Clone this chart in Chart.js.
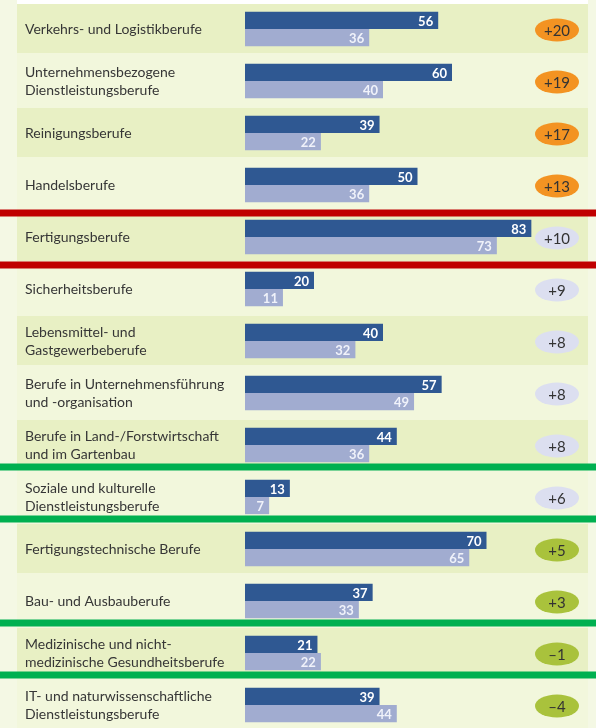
<!DOCTYPE html>
<html>
<head>
<meta charset="utf-8">
<script src="https://cdn.jsdelivr.net/npm/chart.js@4/dist/chart.umd.min.js"></script>
<style>
  html, body { margin: 0; padding: 0; background: #f4f8e4; }
  #wrap { width: 596px; height: 728px; overflow: hidden; }
</style>
</head>
<body>
<div id="wrap"><canvas id="result" width="596" height="731"></canvas></div>
<script>
// categories (multi-line labels as in the original)
var categories = [
    ["Verkehrs- und Logistikberufe"],
    ["Unternehmensbezogene", "Dienstleistungsberufe"],
    ["Reinigungsberufe"],
    ["Handelsberufe"],
    ["Fertigungsberufe"],
    ["Sicherheitsberufe"],
    ["Lebensmittel- und", "Gastgewerbeberufe"],
    ["Berufe in Unternehmensführung", "und -organisation"],
    ["Berufe in Land-/Forstwirtschaft", "und im Gartenbau"],
    ["Soziale und kulturelle", "Dienstleistungsberufe"],
    ["Fertigungstechnische Berufe"],
    ["Bau- und Ausbauberufe"],
    ["Medizinische und nicht-", "medizinische Gesundheitsberufe"],
    ["IT- und naturwissenschaftliche", "Dienstleistungsberufe"]
];
var valuesNew = [56, 60, 39, 50, 83, 20, 40, 57, 44, 13, 70, 37, 21, 39];
var valuesOld = [36, 40, 22, 36, 73, 11, 32, 49, 36, 7, 65, 33, 22, 44];
var diffLabels = ["+20", "+19", "+17", "+13", "+10", "+9", "+8", "+8", "+8", "+6", "+5", "+3", "\u20131", "\u20134"];
var diffGroup = ["up", "up", "up", "up", "mid", "mid", "mid", "mid", "mid", "mid", "low", "low", "low", "low"];
// separator lines: after category index, colour type
var separators = [[3, "red"], [4, "red"], [8, "green"], [9, "green"], [11, "green"], [12, "green"]];

var ovalColors = { up: "#f39322", mid: "#dcdff0", low: "#a9c23c" };
var lineColors = { red: "#c00000", green: "#00b050" };

var rowsPlugin = {
    id: "rows",
    beforeDraw: function(chart) {
        var c = chart.ctx, y = chart.scales.y;
        c.save();
        c.fillStyle = "#f4f8e4";
        c.fillRect(0, 0, chart.width, chart.height);
        c.fillStyle = "#f2f7dc";
        c.fillRect(17, 0, 571, chart.height);
        c.fillStyle = "#ffffff";
        c.fillRect(17, 0, 571, 5);
        c.fillStyle = "#e8f0c4";
        for (var i = 0; i < categories.length; i += 2) {
            var cy = y.getPixelForValue(i);
            c.fillRect(17, cy - 25, 571, 49);
        }
        separators.forEach(function(s) {
            var a = y.getPixelForValue(s[0]), b = y.getPixelForValue(s[0] + 1);
            var my = (a + b) / 2 + (s[1] === "red" ? 2 : -4);
            c.fillStyle = lineColors[s[1]];
            c.fillRect(0, my - 3.5, chart.width, 7);
        });
        c.restore();
    },
    afterDatasetsDraw: function(chart) {
        var c = chart.ctx, y = chart.scales.y;
        c.save();
        c.textBaseline = "middle";
        // values inside bars
        c.font = "bold 13px Lato";
        c.textAlign = "right";
        [0, 1].forEach(function(d) {
            var meta = chart.getDatasetMeta(d);
            meta.data.forEach(function(bar, i) {
                c.fillStyle = d === 0 ? "#ffffff" : "#f0f2fa";
                c.fillText(chart.data.datasets[d].data[i], bar.x - 5, bar.y + 1);
            });
        });
        // difference ovals
        c.textAlign = "center";
        c.font = "15px Lato";
        diffLabels.forEach(function(t, i) {
            var cy = y.getPixelForValue(i) + 1;
            c.fillStyle = ovalColors[diffGroup[i]];
            c.beginPath();
            c.ellipse(557, cy, 22, 11.5, 0, 0, Math.PI * 2);
            c.fill();
            c.fillStyle = "#333333";
            c.fillText(t, 557, cy + 1);
        });
        c.restore();
    }
};

var ctx = document.getElementById("result").getContext("2d");
var chart = new Chart(ctx, {
    type: "bar",
    data: {
        labels: categories,
        datasets: [{
            label: "neu",
            data: valuesNew,
            backgroundColor: "#2f5892",
            categoryPercentage: 0.66,
            barPercentage: 1
        }, {
            label: "alt",
            data: valuesOld,
            backgroundColor: "#a1acd0",
            categoryPercentage: 0.66,
            barPercentage: 1
        }]
    },
    options: {
        indexAxis: "y",
        responsive: false,
        animation: false,
        devicePixelRatio: 1,
        layout: { padding: { left: 25, right: 6, top: 3, bottom: 0 } },
        plugins: { legend: { display: false }, tooltip: { enabled: false } },
        scales: {
            x: { display: false, min: 0, max: 100 },
            y: {
                grid: { display: false },
                border: { display: false },
                ticks: {
                    crossAlign: "far",
                    padding: 0,
                    color: "#363636",
                    font: { family: "Lato", size: 14, lineHeight: "18px" }
                },
                afterFit: function(scale) {
                    scale.width = 220;
                    scale.paddingTop = 0;
                    scale.paddingBottom = 0;
                }
            }
        }
    },
    plugins: [rowsPlugin]
});
</script>
</body>
</html>
